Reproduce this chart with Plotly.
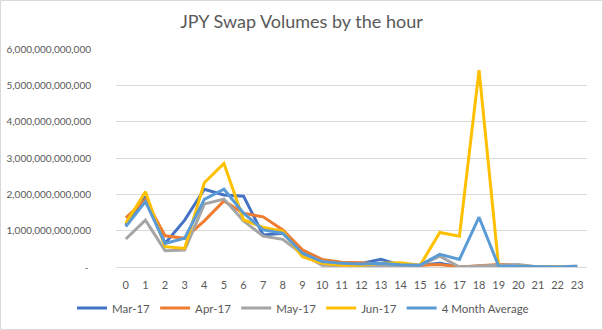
import plotly.graph_objects as go

hours = list(range(24))
hour_labels = [str(h) for h in hours]

T = 1e12
mar17 = [1.15, 1.93, 0.65, 1.29, 2.14, 1.98, 1.95, 0.88, 0.93, 0.40, 0.13, 0.10, 0.10, 0.21, 0.05, 0.05, 0.10, 0.00, 0.02, 0.02, 0.02, 0.00, 0.00, 0.00]
apr17 = [1.35, 1.85, 0.86, 0.79, 1.27, 1.82, 1.48, 1.38, 1.02, 0.47, 0.21, 0.13, 0.12, 0.08, 0.04, 0.05, 0.07, 0.00, 0.03, 0.07, 0.05, 0.00, 0.00, 0.00]
may17 = [0.77, 1.29, 0.45, 0.47, 1.73, 1.87, 1.27, 0.85, 0.76, 0.35, 0.05, 0.03, 0.02, 0.05, 0.03, 0.05, 0.30, 0.00, 0.02, 0.05, 0.07, 0.00, 0.00, 0.02]
jun17 = [1.20, 2.07, 0.56, 0.51, 2.32, 2.85, 1.30, 1.09, 0.99, 0.28, 0.10, 0.05, 0.05, 0.10, 0.12, 0.05, 0.95, 0.85, 5.42, 0.00, 0.02, 0.00, 0.00, 0.00]
avg4 = [1.11, 1.80, 0.65, 0.79, 1.86, 2.14, 1.48, 1.02, 0.93, 0.38, 0.15, 0.10, 0.08, 0.10, 0.06, 0.05, 0.35, 0.21, 1.37, 0.02, 0.02, 0.00, 0.00, 0.02]

series_names = ["Mar-17", "Apr-17", "May-17", "Jun-17", "4 Month Average"]
series_values = [mar17, apr17, may17, jun17, avg4]
colors = ["#4472C4", "#ED7D31", "#A5A5A5", "#FFC000", "#5B9BD5"]

ytick_vals = [0, 1e12, 2e12, 3e12, 4e12, 5e12, 6e12]
ytick_text = [" - ", "1,000,000,000,000", "2,000,000,000,000", "3,000,000,000,000",
              "4,000,000,000,000", "5,000,000,000,000", "6,000,000,000,000"]

FONT = "Lato"
fig = go.Figure()
for name, vals, col in zip(series_names, series_values, colors):
    fig.add_trace(go.Scatter(
        x=hour_labels, y=[v * T for v in vals], name=name, mode="lines",
        line=dict(color=col, width=3),
    ))

fig.update_layout(
    width=603, height=330,
    margin=dict(l=116, r=16, t=49, b=63, autoexpand=False),
    paper_bgcolor="white", plot_bgcolor="white",
    font=dict(family=FONT, color="#595959", size=11),
    title=dict(text="JPY Swap Volumes by the hour", x=0.5, xanchor="center",
               y=1 - 22 / 330, yanchor="middle",
               font=dict(family=FONT, size=18, color="#595959")),
    showlegend=True,
    legend=dict(orientation="h", x=(72 - 116) / 471, xanchor="left", y=(267 - 308) / 218, yanchor="middle",
                font=dict(family=FONT, size=11.5, color="#595959"),
                itemwidth=30, tracegroupgap=0),
    xaxis=dict(type="category", showgrid=False, showline=False, ticks="",
               tickfont=dict(size=11), range=[-0.5, 23.5], ticklabelstandoff=10,
               automargin=False),
    yaxis=dict(range=[0, 6e12], tickvals=ytick_vals, ticktext=ytick_text,
               showgrid=True, gridcolor="#D9D9D9", gridwidth=1,
               zeroline=True, zerolinecolor="#D9D9D9", zerolinewidth=1,
               showline=False, ticks="", tickfont=dict(size=10),
               ticklabelstandoff=24, automargin=False),
    shapes=[dict(type="rect", xref="paper", yref="paper",
                 x0=-115.5 / 471, x1=1 + 15.5 / 471,
                 y0=-62.5 / 218, y1=1 + 48.5 / 218,
                 line=dict(color="#D9D9D9", width=1), fillcolor="rgba(0,0,0,0)")],
)

fig.write_html("out.html")
